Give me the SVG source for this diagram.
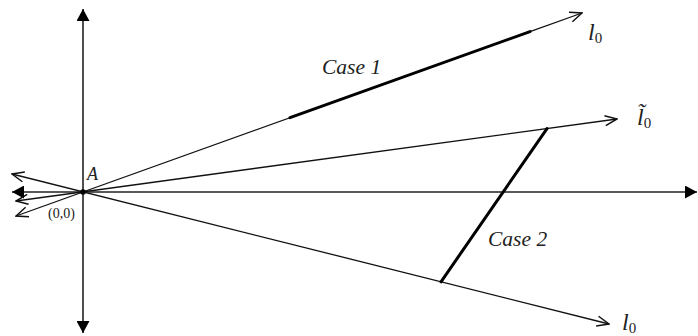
<svg xmlns="http://www.w3.org/2000/svg" width="698" height="336" viewBox="0 0 698 336">
<style>
.ax{stroke:#222;stroke-width:1.6;fill:none}
.ray{stroke:#111;stroke-width:1.3;fill:none}
.thick{stroke:#000;stroke-width:3;fill:none;stroke-linecap:round}
.it{font-family:"Liberation Serif","Times New Roman",serif;font-style:italic;fill:#222}
.rm{font-family:"Liberation Serif","Times New Roman",serif;fill:#222}
.sub{font-style:normal;font-size:15px}
</style>
<defs>
<marker id="open" viewBox="0 0 14 12" refX="13" refY="6" markerWidth="14" markerHeight="12" markerUnits="userSpaceOnUse" orient="auto-start-reverse">
<path d="M1,1 L13,6 L1,11" fill="none" stroke="#111" stroke-width="1.5"/>
</marker>
<marker id="solid" viewBox="0 0 12 13" refX="12" refY="6.5" markerWidth="12" markerHeight="13" markerUnits="userSpaceOnUse" orient="auto-start-reverse">
<path d="M0,0 L12,6.5 L0,13 Z" fill="#000"/>
</marker>
</defs>
<g id="connectors">
<line id="x-axis" class="ax" x1="12" y1="192" x2="697" y2="192" marker-start="url(#solid)" marker-end="url(#solid)"/>
<line id="y-axis" class="ax" x1="83" y1="9" x2="83" y2="333" marker-start="url(#solid)" marker-end="url(#solid)"/>
<line id="ray-l0-upper" class="ray" x1="16" y1="216" x2="582" y2="13" marker-start="url(#open)" marker-end="url(#open)"/>
<line id="ray-l0-tilde" class="ray" x1="16" y1="201" x2="617" y2="119" marker-start="url(#open)" marker-end="url(#open)"/>
<line id="ray-l0-lower" class="ray" x1="12" y1="174" x2="609" y2="324" marker-start="url(#open)" marker-end="url(#open)"/>
<line id="case1-seg" class="thick" x1="290" y1="117.7" x2="530" y2="31.6"/>
<line id="case2-seg" class="thick" x1="547" y1="128.6" x2="441" y2="281.8"/>
</g>
<g id="origin">
<circle cx="83" cy="192" r="2.8" fill="#000"/>
<text class="it" x="87" y="180" font-size="18">A</text>
<text class="rm" x="48" y="218" font-size="14">(0,0)</text>
</g>
<g id="label-case1"><text class="it" x="322" y="74" font-size="21.5">Case 1</text></g>
<g id="label-case2"><text class="it" x="488" y="246" font-size="21.5">Case 2</text></g>
<g id="label-l0-upper"><text class="it" x="588" y="40" font-size="24">l<tspan class="sub" dy="3">0</tspan></text></g>
<g id="label-l0-tilde"><text class="it" x="637" y="125" font-size="24">l&#x303;<tspan class="sub" dy="3">0</tspan></text></g>
<g id="label-l0-lower"><text class="it" x="622" y="330" font-size="24">l<tspan class="sub" dy="3">0</tspan></text></g>
</svg>
